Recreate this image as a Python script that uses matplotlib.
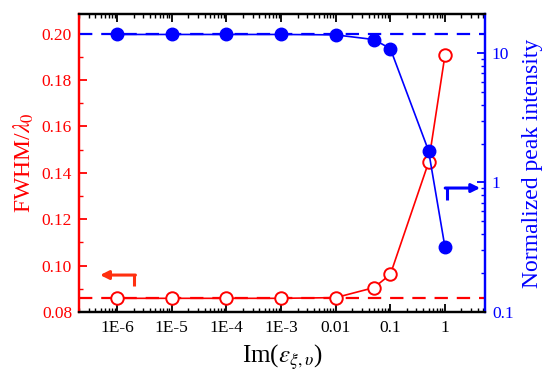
import numpy as np
import matplotlib
matplotlib.use("Agg")
import matplotlib.pyplot as plt
from matplotlib.ticker import FixedLocator, NullFormatter, LogLocator, MultipleLocator

plt.rcParams['font.family'] = ['Liberation Serif', 'DejaVu Serif']
plt.rcParams['mathtext.fontset'] = 'stix'

x_vals = [1e-6, 1e-5, 1e-4, 1e-3, 0.01, 0.05, 0.1, 0.5, 1.0]
fwhm = [0.0859, 0.0859, 0.0859, 0.0859, 0.0862, 0.0905, 0.0962, 0.1445, 0.1908]
peak = [13.9, 13.9, 13.9, 13.9, 13.8, 12.7, 10.8, 1.76, 0.316]
fwhm_ref = 0.086
peak_ref = 13.9
xtick_vals = [1e-6, 1e-5, 1e-4, 1e-3, 0.01, 0.1, 1]
xtick_labels = ['1E-6', '1E-5', '1E-4', '1E-3', '0.01', '0.1', '1']
ytick_left = [0.08, 0.10, 0.12, 0.14, 0.16, 0.18, 0.20]
ytick_left_labels = ['0.08', '0.10', '0.12', '0.14', '0.16', '0.18', '0.20']
ytick_right = [0.1, 1, 10]
ytick_right_labels = ['0.1', '1', '10']

RED = '#ff0000'
BLUE = '#0000ff'

fig = plt.figure(figsize=(5.45, 3.82), dpi=100)
ax = fig.add_axes([79/545, 1-312/382, 406/545, 298/382])
ax2 = ax.twinx()

ax.set_xscale('log')
ax.set_xlim(2e-7, 5.4)
ax.set_ylim(0.08, 0.2085)

ax.axhline(fwhm_ref, color=RED, lw=1.6, dashes=(6, 4), zorder=1)
ax.plot(x_vals, fwhm, color=RED, lw=1.2, marker='o', ms=9, mfc='white',
        mec=RED, mew=1.4, zorder=3)

ax2.set_yscale('log')
ax2.set_ylim(0.1, 20)
ax2.axhline(peak_ref, color=BLUE, lw=1.6, dashes=(6, 4), zorder=1)
ax2.plot(x_vals, peak, color=BLUE, lw=1.2, marker='o', ms=9, mfc=BLUE,
         mec=BLUE, zorder=3)

# ticks
ax.set_xticks(xtick_vals)
ax.set_xticklabels(xtick_labels)
ax.xaxis.set_minor_locator(LogLocator(base=10, subs=np.arange(2, 10)))
ax.xaxis.set_minor_formatter(NullFormatter())
ax.set_yticks(ytick_left)
ax.set_yticklabels(ytick_left_labels)
ax.yaxis.set_minor_locator(MultipleLocator(0.01))

ax.tick_params(axis='x', which='both', direction='in', top=True, bottom=True,
               colors='black', labelsize=12.5, pad=6)
ax.tick_params(axis='x', which='major', length=6, width=1.3)
ax.tick_params(axis='x', which='minor', length=3, width=1.0)
ax.tick_params(axis='y', which='both', direction='in', left=True, right=False,
               colors=RED, labelsize=12.5, pad=5)
ax.tick_params(axis='y', which='major', length=6, width=1.3)
ax.tick_params(axis='y', which='minor', length=3, width=1.0)

ax2.set_yticks(ytick_right)
ax2.set_yticklabels(ytick_right_labels)
ax2.yaxis.set_minor_locator(LogLocator(base=10, subs=np.arange(2, 10)))
ax2.yaxis.set_minor_formatter(NullFormatter())
ax2.tick_params(axis='y', which='both', direction='in', colors=BLUE, labelsize=12.5, pad=5)
ax2.tick_params(axis='y', which='major', length=6, width=1.3)
ax2.tick_params(axis='y', which='minor', length=3, width=1.0)

for a in (ax, ax2):
    for s in a.spines.values():
        s.set_linewidth(1.6)
    a.spines['top'].set_color('black')
    a.spines['bottom'].set_color('black')
    a.spines['left'].set_color(RED)
    a.spines['right'].set_color(BLUE)

ax.set_ylabel(r'FWHM/$\lambda_0$', color=RED, fontsize=17, labelpad=4)
ax2.set_ylabel('Normalized peak intensity', color=BLUE, fontsize=17, labelpad=6)
ax.set_xlabel(r'Im($\epsilon_{\xi,\upsilon}$)', fontsize=18, labelpad=4)

# direction arrows (axes fraction)
ARED = '#ff3010'
ax.plot([0.135, 0.135], [0.087, 0.124], color=ARED, lw=2.2, transform=ax.transAxes,
        solid_capstyle='butt', zorder=4)
ax.annotate('', xy=(0.052, 0.124), xytext=(0.139, 0.124), xycoords='axes fraction',
            arrowprops=dict(arrowstyle='-|>,head_length=0.5,head_width=0.25',
                            color=ARED, lw=2.2, shrinkA=0, shrinkB=0))
ax2.plot([0.906, 0.906], [0.376, 0.416], color=BLUE, lw=2.2, transform=ax2.transAxes,
         solid_capstyle='butt', zorder=4)
ax2.annotate('', xy=(0.988, 0.416), xytext=(0.902, 0.416), xycoords='axes fraction',
             arrowprops=dict(arrowstyle='-|>,head_length=0.5,head_width=0.25',
                             color=BLUE, lw=2.2, shrinkA=0, shrinkB=0))

fig.savefig('out.png', dpi=100)
